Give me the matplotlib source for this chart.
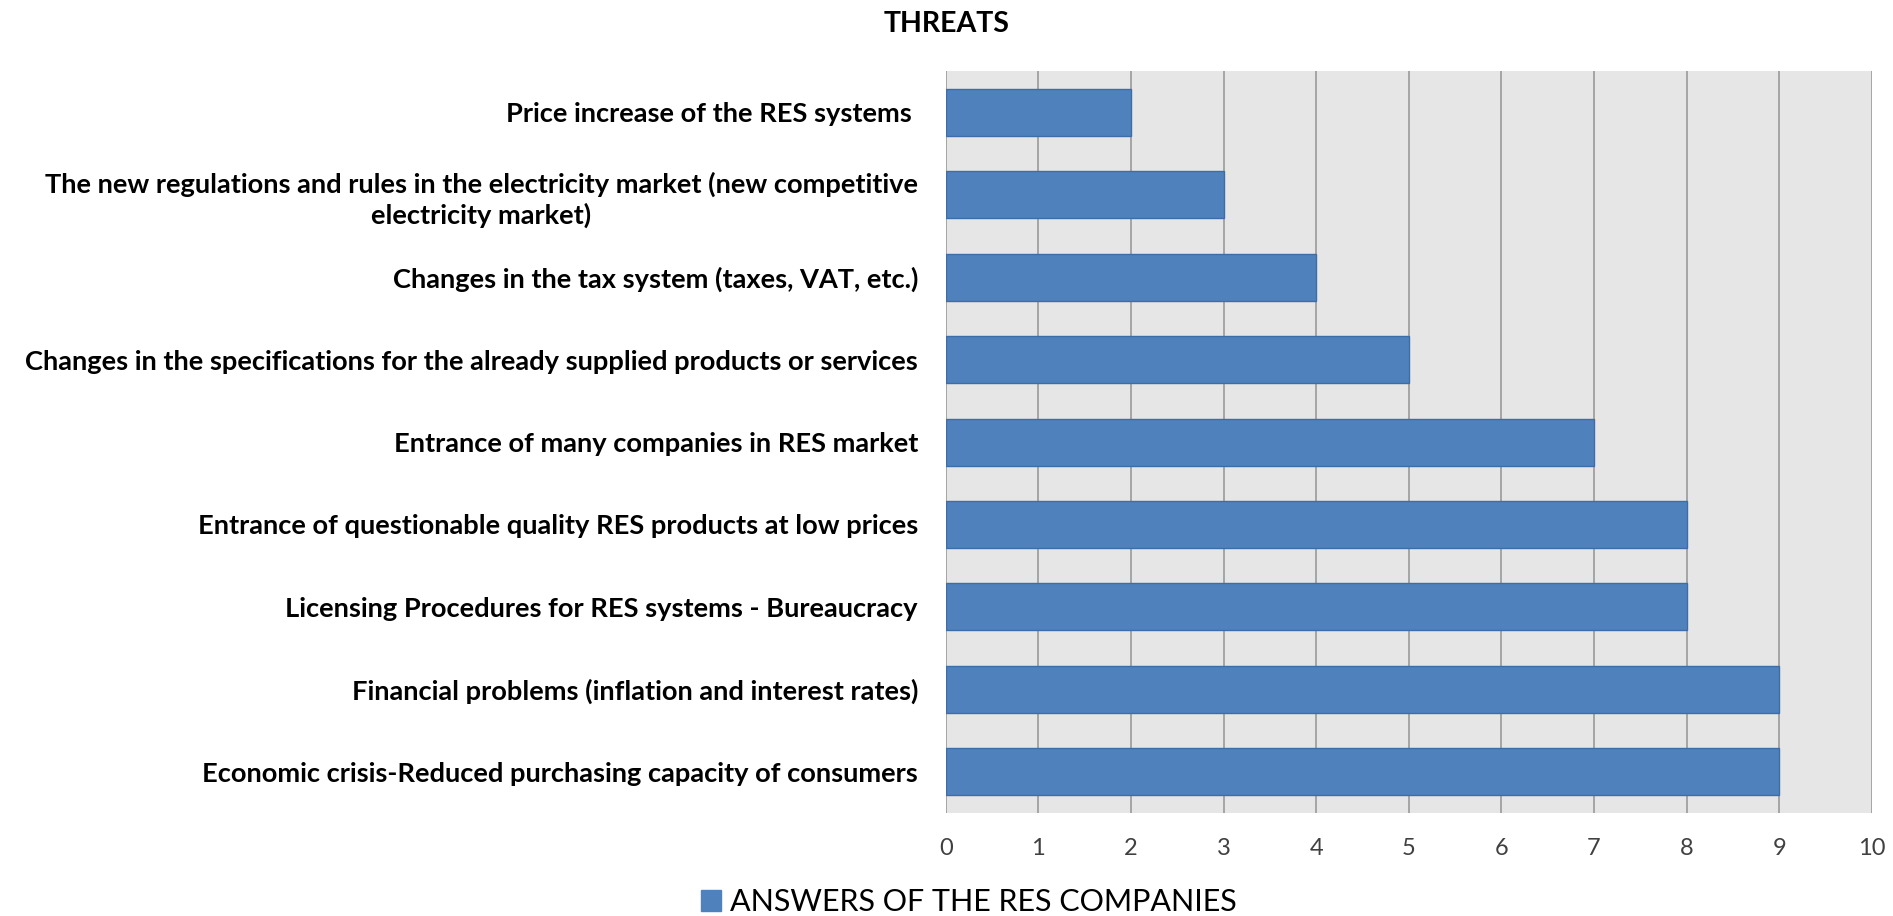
import matplotlib
matplotlib.use('Agg')
import matplotlib.pyplot as plt
from matplotlib.patches import Patch

# Survey answers, listed bottom to top as drawn
categories = [
    'Economic crisis-Reduced purchasing capacity of consumers',
    'Financial problems (inflation and interest rates)',
    'Licensing Procedures for RES systems - Bureaucracy',
    'Entrance of questionable quality RES products at low prices',
    'Entrance of many companies in RES market',
    'Changes in the specifications for the already supplied products or services',
    'Changes in the tax system (taxes, VAT, etc.)',
    'The new regulations and rules in the electricity market (new competitive\nelectricity market)',
    'Price increase of the RES systems ',
]
answers = [9, 9, 8, 8, 7, 5, 4, 3, 2]
x_ticks = list(range(0, 11))

plt.rcParams['font.family'] = ['Lato', 'DejaVu Sans']

fig = plt.figure(figsize=(18.93, 9.16), dpi=100)
ax = fig.add_axes([0.4996, 0.1124, 0.4892, 0.8101])

ax.set_facecolor('#E6E6E6')
ax.barh(range(len(categories)), answers, height=0.57,
        color='#4F81BD', edgecolor='#3D6DA8', linewidth=1.0, zorder=3)

ax.set_xlim(0, 10)
ax.set_ylim(-0.5, len(categories) - 0.5)
ax.set_xticks(x_ticks)
ax.set_xticklabels([str(t) for t in x_ticks], fontsize=17, color='#404040')
ax.set_yticks(range(len(categories)))
ax.set_yticklabels(categories, fontsize=19.6, fontweight='bold',
                   multialignment='center', linespacing=1.3)
ax.tick_params(axis='both', length=0)
ax.tick_params(axis='y', pad=20)
ax.tick_params(axis='x', pad=18)
ax.grid(axis='x', color='#A0A0A0', linewidth=1.3, zorder=1)
ax.grid(axis='y', visible=False)
for s in ax.spines.values():
    s.set_visible(False)

fig.text(0.5, 0.974, 'THREATS', ha='center', va='center',
         fontsize=20.5, fontweight='bold')

handles = [Patch(facecolor='#4F81BD', edgecolor='#4F81BD',
                 label='ANSWERS OF THE RES COMPANIES')]
fig.legend(handles=handles, loc='center', bbox_to_anchor=(0.512, 0.015),
           frameon=False, fontsize=22, handlelength=0.65, handleheight=0.65,
           handletextpad=0.3, borderpad=0)

fig.savefig('out.png', dpi=100, facecolor='white')
